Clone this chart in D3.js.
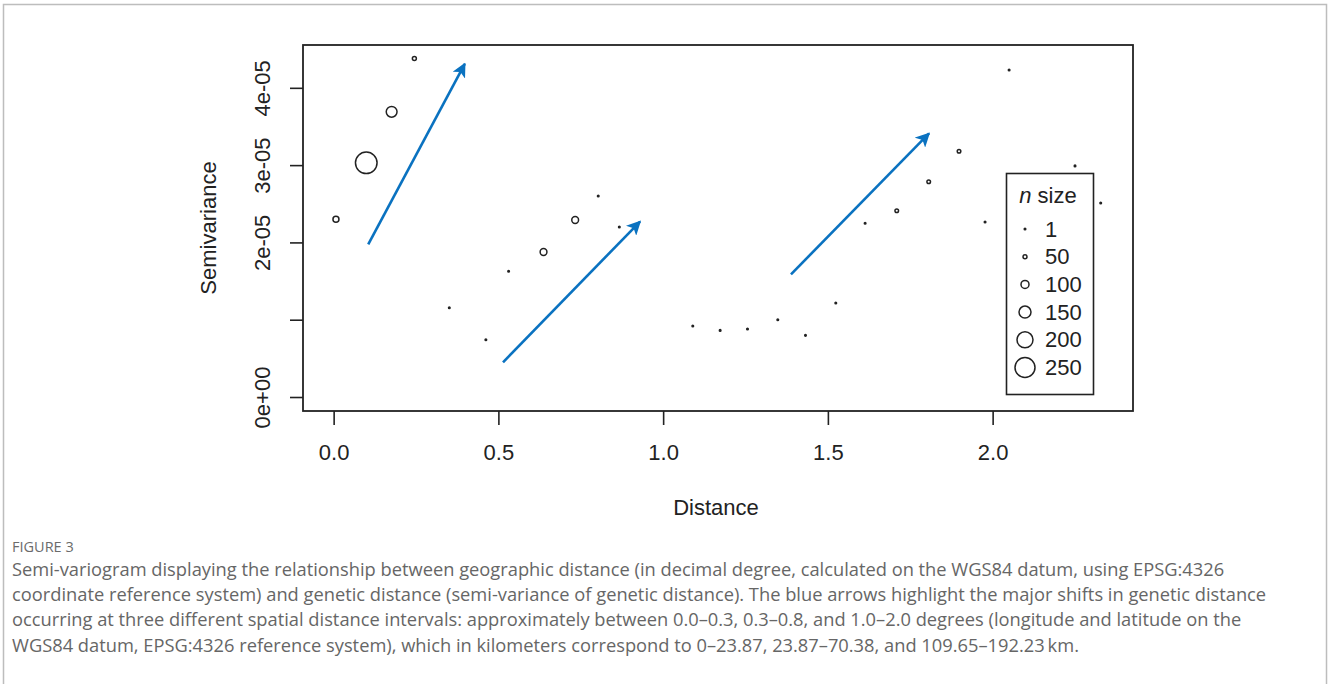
<!DOCTYPE html>
<html>
<head>
<meta charset="utf-8">
<script src="https://cdn.jsdelivr.net/npm/d3@7"></script>
<style>
  body { margin: 0; background: #fff; }
</style>
</head>
<body>
<div id="chart"></div>
<script>
// semivariogram bins: lag distance (degrees), semivariance, number of pairs
const distance = [0.007, 0.099, 0.176, 0.245, 0.351, 0.462, 0.531, 0.637, 0.733, 0.803, 0.867,
    1.090, 1.173, 1.256, 1.348, 1.432, 1.524, 1.613, 1.709, 1.806, 1.898, 1.977, 2.050, 2.250, 2.328];
const gamma = [2.30e-5, 3.03e-5, 3.69e-5, 4.38e-5, 1.155e-5, 0.741e-5, 1.626e-5, 1.876e-5, 2.29e-5, 2.60e-5, 2.20e-5,
    0.918e-5, 0.862e-5, 0.88e-5, 1.0e-5, 0.798e-5, 1.216e-5, 2.247e-5, 2.41e-5, 2.785e-5, 3.18e-5, 2.264e-5, 4.23e-5, 2.99e-5, 2.51e-5];
const npairs = [75, 270, 135, 50, 5, 5, 5, 85, 85, 5, 5,
    5, 5, 5, 5, 5, 5, 5, 45, 45, 45, 5, 5, 5, 5];

const xTicks = [0, 0.5, 1.0, 1.5, 2.0];
const yTicks = [0, 1e-5, 2e-5, 3e-5, 4e-5];
const yTickLabels = ["0e+00", "", "2e-05", "3e-05", "4e-05"];

const legendSizes = [1, 50, 100, 150, 200, 250];

// arrows: [x0, y0, x1, y1] in data units
const arrows = [
    [0.105, 1.975e-5, 0.398, 4.31e-5],
    [0.514, 0.449e-5, 0.930, 2.27e-5],
    [1.388, 1.587e-5, 1.807, 3.41e-5]
];

const captionTitle = "FIGURE 3";
const captionLines = [
    "Semi-variogram displaying the relationship between geographic distance (in decimal degree, calculated on the WGS84 datum, using EPSG:4326",
    "coordinate reference system) and genetic distance (semi-variance of genetic distance). The blue arrows highlight the major shifts in genetic distance",
    "occurring at three different spatial distance intervals: approximately between 0.0\u20130.3, 0.3\u20130.8, and 1.0\u20132.0 degrees (longitude and latitude on the",
    "WGS84 datum, EPSG:4326 reference system), which in kilometers correspond to 0\u201323.87, 23.87\u201370.38, and 109.65\u2013192.23\u2009km."
];

const width = 1328, height = 684;
const box = { left: 303, right: 1133, top: 45, bottom: 411 };
const ink = "#222";
const arrowColor = "#0a72c0";
const plotFont = "'Liberation Sans', Arial, sans-serif";
const captionFont = "'Open Sans', Lato, sans-serif";

const svg = d3.select("#chart").append("svg")
    .attr("width", width)
    .attr("height", height);

// figure frame
svg.append("rect")
    .attr("x", 3.5).attr("y", 4.5)
    .attr("width", 1323).attr("height", 720)
    .attr("fill", "none")
    .attr("stroke", "#bdbdbd")
    .attr("stroke-width", 1.5);

const xScale = d3.scaleLinear().domain([-0.093, 2.426]).range([box.left, box.right]);
const yScale = d3.scaleLinear().domain([-0.181e-5, 4.554e-5]).range([box.bottom, box.top]);
const rScale = d3.scaleLinear().domain([0, 250]).range([0, 10]);

const defs = svg.append("defs");
defs.append("marker")
    .attr("id", "head")
    .attr("viewBox", "0 0 10 10")
    .attr("refX", 9).attr("refY", 5)
    .attr("markerWidth", 5.5).attr("markerHeight", 5.5)
    .attr("markerUnits", "strokeWidth")
    .attr("orient", "auto")
    .append("path")
    .attr("d", "M0,0 L10,5 L0,10 L2.5,5 Z")
    .attr("fill", arrowColor);

// x axis
const xAxis = svg.append("g")
    .attr("transform", `translate(0,${box.bottom})`)
    .call(d3.axisBottom(xScale).tickValues(xTicks).tickFormat(d3.format(".1f")).tickSize(14).tickPadding(19));
xAxis.select(".domain").remove();
xAxis.selectAll("line").attr("stroke", ink).attr("stroke-width", 1.6);
xAxis.selectAll("text").attr("font-size", 22).attr("fill", ink)
    .attr("font-family", plotFont);

// y axis, labels parallel to the axis
const yAxis = svg.append("g")
    .attr("transform", `translate(${box.left},0)`)
    .call(d3.axisLeft(yScale).tickValues(yTicks).tickFormat((d, i) => yTickLabels[i]).tickSize(13));
yAxis.select(".domain").remove();
yAxis.selectAll("line").attr("stroke", ink).attr("stroke-width", 1.6);
yAxis.selectAll("text")
    .attr("font-size", 22).attr("fill", ink)
    .attr("font-family", plotFont)
    .attr("x", null).attr("dy", null)
    .attr("text-anchor", "middle")
    .attr("transform", "translate(-41,0) rotate(-90)")
    .attr("dominant-baseline", "central");

// plot box
svg.append("rect")
    .attr("x", box.left).attr("y", box.top)
    .attr("width", box.right - box.left).attr("height", box.bottom - box.top)
    .attr("fill", "none").attr("stroke", ink).attr("stroke-width", 1.8);

// axis titles
svg.append("text")
    .attr("x", 716).attr("y", 515)
    .attr("text-anchor", "middle").attr("font-size", 22).attr("fill", ink)
    .attr("font-family", plotFont)
    .text("Distance");
svg.append("text")
    .attr("transform", `translate(216,${(box.top + box.bottom) / 2}) rotate(-90)`)
    .attr("text-anchor", "middle").attr("font-size", 22).attr("fill", ink)
    .attr("font-family", plotFont)
    .text("Semivariance");

// points
const points = distance.map((d, i) => ({ d, g: gamma[i], n: npairs[i] }));
svg.append("g")
    .selectAll("circle")
    .data(points)
    .join("circle")
    .attr("cx", p => xScale(p.d))
    .attr("cy", p => yScale(p.g))
    .attr("r", p => Math.max(rScale(p.n), 0.8))
    .attr("fill", "none")
    .attr("stroke", ink)
    .attr("stroke-width", 1.5);

// arrows
svg.append("g")
    .selectAll("line")
    .data(arrows)
    .join("line")
    .attr("x1", a => xScale(a[0])).attr("y1", a => yScale(a[1]))
    .attr("x2", a => xScale(a[2])).attr("y2", a => yScale(a[3]))
    .attr("stroke", arrowColor)
    .attr("stroke-width", 2.6)
    .attr("marker-end", "url(#head)");

// legend
const legend = svg.append("g").attr("font-family", plotFont);
legend.append("rect")
    .attr("x", 1006.5).attr("y", 173.5)
    .attr("width", 87).attr("height", 221)
    .attr("fill", "#fff").attr("stroke", ink).attr("stroke-width", 1.6);
const title = legend.append("text")
    .attr("x", 1048).attr("y", 203)
    .attr("text-anchor", "middle").attr("font-size", 22).attr("fill", ink);
title.append("tspan").attr("font-style", "italic").text("n");
title.append("tspan").text(" size");

const rows = legend.selectAll("g.row")
    .data(legendSizes)
    .join("g")
    .attr("class", "row")
    .attr("transform", (d, i) => `translate(0,${229 + i * 27.7})`);
rows.append("circle")
    .attr("cx", 1025).attr("cy", 0)
    .attr("r", d => Math.max(rScale(d), 0.8))
    .attr("fill", "none").attr("stroke", ink).attr("stroke-width", 1.5);
rows.append("text")
    .attr("x", 1045).attr("y", 0)
    .attr("dominant-baseline", "central")
    .attr("font-size", 22).attr("fill", ink)
    .text(d => d);

// caption
const caption = svg.append("g").attr("font-family", captionFont);
caption.append("text")
    .attr("x", 12).attr("y", 552)
    .attr("font-size", 14.5).attr("fill", "#6b6b6b")
    .text(captionTitle);
caption.selectAll("text.line")
    .data(captionLines)
    .join("text")
    .attr("class", "line")
    .attr("x", 12)
    .attr("y", (d, i) => 576 + i * 25.2)
    .attr("font-size", 18.3)
    .attr("fill", "#666")
    .text(d => d);
</script>
</body>
</html>
